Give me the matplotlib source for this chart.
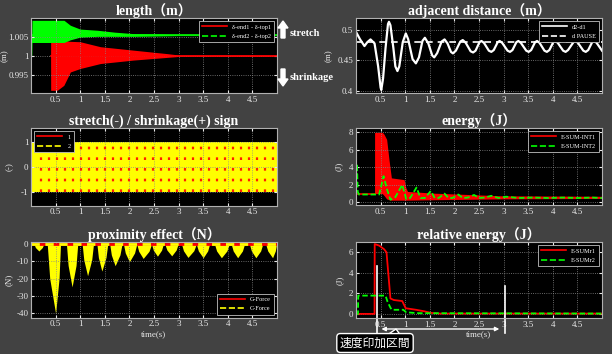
import numpy as np
import matplotlib
matplotlib.use("Agg")
import matplotlib.pyplot as plt
from matplotlib.lines import Line2D
from matplotlib.patches import Polygon, FancyArrow

plt.rcParams['font.family'] = ['Liberation Serif', 'Noto Sans CJK JP']

# ---- length (m) : envelopes of the fast oscillation ----
len_green_t = [0.0, 0.015, 0.02, 0.67, 0.8, 1.0, 1.35, 1.7, 2.1, 2.6, 3.0, 5.0]
len_green_hi = [1.005, 1.005, 1.0093, 1.0093, 1.0080, 1.0070, 1.0067, 1.0062, 1.0058, 1.0057, 1.0055, 1.0055]
len_green_lo = [1.0, 1.0, 1.0035, 1.0035, 1.0042, 1.0049, 1.0051, 1.0051, 1.0051, 1.0052, 1.0053, 1.0053]
len_red_t = [0.398, 0.40, 0.533, 0.667, 0.80, 1.0, 1.41, 2.08, 2.76, 2.96, 3.0, 5.0]
len_red_hi = [1.0, 1.0043, 1.0042, 1.0040, 1.0038, 1.0037, 1.0024, 1.0015, 1.0006, 1.0003, 1.0002, 1.0002]
len_red_lo = [1.0, 0.9910, 0.9910, 0.9923, 0.9958, 0.9967, 0.9980, 0.9989, 0.9996, 0.9998, 0.9999, 0.9999]

# ---- adjacent distance (m) ----
dist_t = [0.0, 0.08, 0.172, 0.23, 0.295, 0.377, 0.45, 0.50, 0.514, 0.55, 0.60, 0.65, 0.67, 0.70,
          0.76, 0.80, 0.842, 0.88, 0.95, 1.012, 1.06, 1.15, 1.217, 1.28, 1.35, 1.40, 1.47, 1.55,
          1.59, 1.65, 1.74, 1.80, 1.86, 1.93, 1.97, 2.03, 2.12, 2.17, 2.23, 2.33, 2.38, 2.43,
          2.51, 2.55, 2.60, 2.70, 2.75, 2.80, 2.88, 2.92, 2.97, 3.08, 3.13, 3.18, 3.26, 3.30,
          3.35, 3.46, 3.51, 3.56, 3.64, 3.68, 3.73, 3.83, 3.88, 3.93, 4.01, 4.05, 4.10, 4.21,
          4.26, 4.31, 4.42, 4.46, 4.51, 4.62, 4.67, 4.72, 4.80, 4.84, 4.89, 5.0]
dist_v = [0.497, 0.485, 0.4736, 0.480, 0.4846, 0.478, 0.44, 0.405, 0.401, 0.42, 0.47, 0.51,
          0.5137, 0.508, 0.47, 0.44, 0.4323, 0.44, 0.48, 0.4945, 0.485, 0.452, 0.445, 0.455,
          0.482, 0.4873, 0.478, 0.458, 0.4549, 0.462, 0.481, 0.4846, 0.478, 0.464, 0.4615,
          0.466, 0.481, 0.4835, 0.479, 0.465, 0.463, 0.466, 0.480, 0.482, 0.479, 0.466, 0.464,
          0.467, 0.480, 0.482, 0.479, 0.466, 0.464, 0.467, 0.480, 0.482, 0.479, 0.466, 0.464,
          0.467, 0.480, 0.482, 0.479, 0.466, 0.464, 0.467, 0.480, 0.482, 0.479, 0.466, 0.464,
          0.467, 0.480, 0.482, 0.479, 0.466, 0.464, 0.467, 0.480, 0.482, 0.479, 0.466]
dist_pause = 0.4807

# ---- stretch / shrinkage sign ----
sign_t = [0.0, 5.0]
sign_hi = [1, 1]
sign_lo = [-1, -1]
sign_switch_t = [0.20, 0.36, 0.52, 0.69, 0.85, 1.01, 1.18, 1.34, 1.50, 1.66, 1.83, 1.99, 2.15,
                 2.32, 2.48, 2.64, 2.80, 2.97, 3.13, 3.29, 3.46, 3.62, 3.78, 3.94, 4.11, 4.27,
                 4.43, 4.60, 4.76, 4.92]

# ---- energy (J) ----
en_red_t = [0.0, 0.377, 0.378, 0.534, 0.568, 0.623, 0.67, 0.719, 0.978, 1.012, 1.047, 1.59, 2.28, 2.96, 5.0]
en_red_hi = [1.0, 1.0, 8.0, 8.0, 7.8, 7.2, 4.9, 2.8, 2.6, 1.7, 1.25, 1.05, 0.9, 0.75, 0.7]
en_red_lo = [1.0, 1.0, 1.0, 1.0, 0.8, 0.4, 0.3, 0.25, 0.25, 0.25, 0.25, 0.3, 0.35, 0.4, 0.45]
en_green_t = [0.0, 0.02, 0.035, 0.06, 0.47, 0.56, 0.63, 0.70, 0.80, 0.94, 1.02, 1.10, 1.23, 1.31,
              1.40, 1.52, 1.60, 1.68, 1.80, 1.88, 1.96, 2.08, 2.17, 2.27, 2.40, 2.50, 2.62,
              2.75, 2.90, 3.05, 3.3, 3.6, 3.9, 4.2, 4.5, 4.8, 5.0]
en_green = [0.9, 4.4, 1.2, 0.9, 0.9, 3.0, 1.5, 0.3, 0.6, 2.0, 0.4, 0.5, 1.7, 0.5, 0.5, 1.3, 0.5,
            0.5, 1.0, 0.5, 0.5, 0.9, 0.5, 0.55, 0.85, 0.5, 0.55, 0.75, 0.5, 0.65, 0.5, 0.55,
            0.5, 0.55, 0.5, 0.55, 0.5]

# ---- proximity effect (N) : one pulse per contact ----
prox_start = [0.06, 0.33, 0.72, 1.04, 1.34, 1.60, 1.88, 2.15, 2.45, 2.72, 3.06, 3.36, 3.73, 4.07, 4.44, 4.77]
prox_mid = [0.16, 0.50, 0.835, 1.15, 1.44, 1.71, 2.00, 2.28, 2.57, 2.86, 3.19, 3.50, 3.87, 4.20, 4.57, 4.91]
prox_end = [0.26, 0.60, 0.95, 1.27, 1.56, 1.85, 2.15, 2.45, 2.69, 2.99, 3.36, 3.63, 4.03, 4.34, 4.71, 4.99]
prox_depth = [-4.0, -40.0, -24.7, -18.3, -15.6, -12.5, -10.2, -8.3, -7.0, -6.8, -7.7, -7.9, -7.9, -7.9, -7.9, -7.9]
prox_g_t = [0.0, 5.0]
prox_g = [0.0, 0.0]

# ---- relative energy (J) ----
rel_red_t = [0.0, 0.377, 0.38, 0.47, 0.57, 0.62, 0.70, 0.77, 0.94, 1.01, 1.22, 1.39, 1.52, 1.7, 5.0]
rel_red = [0.0, 0.0, 6.8, 6.65, 6.3, 6.0, 1.5, 1.35, 1.25, 0.55, 0.4, 0.25, 0.1, 0.03, 0.03]
rel_green_t = [0.0, 0.04, 0.045, 0.60, 0.64, 0.70, 0.73, 0.96, 1.02, 1.24, 5.0]
rel_green = [0.0, 0.0, 1.78, 1.78, 1.2, 0.6, 0.4, 0.4, 0.16, 0.07, 0.03]

xticks = [0.5, 1, 1.5, 2, 2.5, 3, 3.5, 4, 4.5]

BG = '#424242'
W, H = 612, 354
fig = plt.figure(figsize=(W / 100, H / 100), dpi=100, facecolor=BG)


def add_axes(left, right, top, bottom):
    return fig.add_axes([left / W, 1 - bottom / H, (right - left) / W, (bottom - top) / H])


def style(ax, title, ylabel, yticks, yticklabels, ylim, label_x):
    ax.set_facecolor('black')
    ax.set_xlim(0, 5)
    ax.set_ylim(*ylim)
    ax.set_xticks(xticks)
    ax.set_xticklabels(['%g' % v for v in xticks])
    ax.set_yticks(yticks)
    ax.set_yticklabels(yticklabels)
    ax.tick_params(colors='#e8e8e8', labelsize=6.5, direction='in', length=2, pad=2,
                   top=True, right=True)
    for s in ax.spines.values():
        s.set_color('#b0b0b0')
        s.set_linewidth(0.8)
    ax.grid(True, color='#8a8a8a', linestyle=':', linewidth=0.6)
    ax.set_title(title, color='white', fontsize=10, fontweight='bold', pad=2)
    ax.set_ylabel(ylabel, color='#e8e8e8', fontsize=6.5)
    ax.yaxis.set_label_coords(label_x, 0.5)


def legend(ax, handles, labels, loc):
    lg = ax.legend(handles, labels, loc=loc, fontsize=4.5, facecolor='black',
                   edgecolor='#c0c0c0', framealpha=1, handlelength=4, borderpad=0.5,
                   labelspacing=0.6, fancybox=False)
    for t in lg.get_texts():
        t.set_color('white')
    lg.get_frame().set_linewidth(0.6)


# length
ax1 = add_axes(31, 277, 18, 93)
ax1.fill_between(len_red_t, len_red_lo, len_red_hi, color='#ff0000', lw=0)
ax1.plot(len_red_t, [1.0] * len(len_red_t), color='#ff0000', lw=1.2)
ax1.fill_between(len_green_t, len_green_lo, len_green_hi, color='#00ff00', lw=0)
ax1.plot(len_green_t[2:], [1.0054] * len(len_green_t[2:]), color='#00ff00', lw=1.2)
style(ax1, 'length（m）', '(m)', [0.995, 1.0, 1.005], ['0.995', '1', '1.005'], (0.9903, 1.0099), -0.09)
legend(ax1, [Line2D([], [], color='red', lw=1.2), Line2D([], [], color='#00ff00', lw=1.2, ls='--')],
       ['δ-end1 - δ-top1', 'δ-end2 - δ-top2'], 'upper right')

# adjacent distance
ax2 = add_axes(356, 602, 18, 93)
ax2.plot(dist_t, dist_v, color='white', lw=1.6, solid_joinstyle='round')
ax2.axhline(dist_pause, color='white', lw=1.2, ls='--', dashes=(4, 3))
style(ax2, 'adjacent distance（m）', '(m)', [0.4, 0.45, 0.5], ['0.4', '0.45', '0.5'], (0.396, 0.52), -0.095)
legend(ax2, [Line2D([], [], color='white', lw=1.2), Line2D([], [], color='white', lw=1.2, ls='--')],
       ['d2-d1', 'd PAUSE'], 'upper right')

# stretch / shrinkage sign
ax3 = add_axes(31, 277, 128, 205.5)
ax3.fill_between(sign_t, sign_lo, sign_hi, color='#ffff00', lw=0)
ax3.vlines(sign_switch_t, -1, 1, color='#ff2000', lw=1.6, linestyles=(0, (1.2, 3.6)))
style(ax3, 'stretch(-) / shrinkage(+) sign', '(-)', [-1, 0, 1], ['-1', '0', '1'], (-1.52, 1.54), -0.07)
legend(ax3, [Line2D([], [], color='red', lw=1.2), Line2D([], [], color='#ffff00', lw=1.2, ls='--')],
       ['1', '2'], 'upper left')

# energy
ax4 = add_axes(356, 602, 128, 205)
ax4.fill_between(en_red_t, en_red_lo, en_red_hi, color='#ff0000', lw=0)
ax4.plot(en_red_t[:3], en_red_lo[:3], color='#ff0000', lw=1.2)
ax4.plot(en_green_t, en_green, color='#00ff00', lw=1.3, ls='--', dashes=(3, 1.5))
style(ax4, 'energy（J）', '(J)', [0, 2, 4, 6, 8], ['0', '2', '4', '6', '8'], (-0.3, 8.5), -0.055)
legend(ax4, [Line2D([], [], color='red', lw=1.2), Line2D([], [], color='#00ff00', lw=1.2, ls='--')],
       ['E-SUM-INT1', 'E-SUM-INT2'], 'upper right')

# proximity effect: pulses are bulged, so the half-depth point sits at 70% of the half-width
ax5 = add_axes(31, 277, 242, 317.7)
prox_t = [0.0]
prox_v = [0.0]
for s, m, e, d in zip(prox_start, prox_mid, prox_end, prox_depth):
    prox_t += [s, m - 0.7 * (m - s), m, m + 0.7 * (e - m), e]
    prox_v += [0.0, 0.5 * d, d, 0.5 * d, 0.0]
prox_t.append(5.0)
prox_v.append(0.0)
ax5.plot(prox_g_t, prox_g, color='#ff0000', lw=2)
ax5.fill_between(prox_t, prox_v, 0, color='#ffff00', lw=0)
ax5.plot(prox_g_t, prox_g, color='#ffff00', lw=2, ls='--', dashes=(3, 2))
style(ax5, 'proximity effect（N）', '(N)', [-40, -30, -20, -10, 0], ['-40', '-30', '-20', '-10', '0'],
      (-42.5, 1.2), -0.075)
ax5.set_xlabel('time(s)', color='#e8e8e8', fontsize=6.5, labelpad=1)
legend(ax5, [Line2D([], [], color='red', lw=1.2), Line2D([], [], color='#ffff00', lw=1.2, ls='--')],
       ['G-Force', 'C-Force'], 'lower right')

# relative energy
ax6 = add_axes(356, 602, 242, 318)
ax6.plot(rel_red_t, rel_red, color='#ff0000', lw=1.3)
ax6.plot(rel_green_t, rel_green, color='#00ff00', lw=1.3, ls='--', dashes=(3, 1.5))
style(ax6, 'relative energy（J）', '(J)', [0, 2, 4, 6], ['0', '2', '4', '6'], (-0.4, 7.0), -0.05)
ax6.set_xlabel('time(s)', color='#e8e8e8', fontsize=6.5, labelpad=1)
legend(ax6, [Line2D([], [], color='red', lw=1.2), Line2D([], [], color='#00ff00', lw=1.2, ls='--')],
       ['E-SUMr1', 'E-SUMr2'], 'upper right')

# speed-application interval marker
ax6.plot([0.42, 0.42], [4.7, -1.86], color='white', lw=1.2, clip_on=False)
ax6.plot([3.02, 3.02], [2.7, -1.86], color='white', lw=1.2, clip_on=False)
ax6.annotate('', xy=(0.46, -1.47), xytext=(2.97, -1.47), annotation_clip=False,
             arrowprops=dict(arrowstyle='<|-|>', color='white', lw=1.0, mutation_scale=6))
fig.text(375 / W, 1 - 343 / H, '速度印加区間', color='white', fontsize=8.5, ha='center', va='center',
         family=['Noto Sans CJK JP'],
         bbox=dict(boxstyle='round,pad=0.25,rounding_size=0.3', fc='black', ec='white', lw=1.0))
fig.add_artist(Polygon([[388 / W, 1 - 334.5 / H], [396 / W, 1 - 329 / H], [400 / W, 1 - 334.5 / H]],
                       closed=True, fc='black', ec='white', lw=1.0, transform=fig.transFigure))

# stretch / shrinkage markers next to the length panel
fig.patches.append(FancyArrow(283 / W, 1 - 38 / H, 0, 17 / H, width=4 / W, head_width=10 / W,
                              head_length=7 / H, color='white', transform=fig.transFigure,
                              length_includes_head=True))
fig.patches.append(FancyArrow(283 / W, 1 - 69 / H, 0, -17 / H, width=4 / W, head_width=10 / W,
                              head_length=7 / H, color='white', transform=fig.transFigure,
                              length_includes_head=True))
fig.text(290 / W, 1 - 34 / H, 'stretch', color='white', fontsize=7.5, fontweight='bold', va='center')
fig.text(290 / W, 1 - 77 / H, 'shrinkage', color='white', fontsize=7.5, fontweight='bold', va='center')

fig.savefig('out.png', dpi=100, facecolor=BG)
